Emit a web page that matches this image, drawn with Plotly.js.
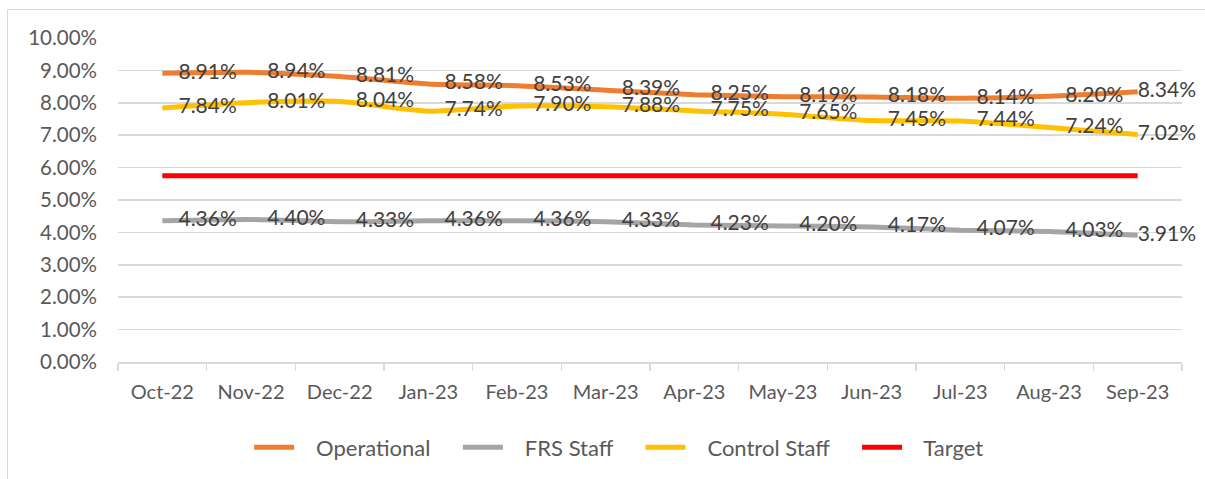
<!DOCTYPE html>
<html>
<head>
<meta charset="utf-8">
<script src="https://cdn.plot.ly/plotly-3.0.1.min.js"></script>
<style>
  html, body { margin: 0; padding: 0; background: #fff; }
  #frame { position: absolute; left: 7px; top: 9px; width: 1210px; height: 480px; border: 1.5px solid #d9d9d9; box-sizing: border-box; }
  #chart { position: absolute; left: 0; top: 0; width: 1205px; height: 479px; }
</style>
</head>
<body>
<div id="frame"></div>
<div id="chart"></div>
<script>
const months = ["Oct-22","Nov-22","Dec-22","Jan-23","Feb-23","Mar-23","Apr-23","May-23","Jun-23","Jul-23","Aug-23","Sep-23"];
const operational = [0.0891,0.0894,0.0881,0.0858,0.0853,0.0839,0.0825,0.0819,0.0818,0.0814,0.0820,0.0834];
const frsStaff = [0.0436,0.0440,0.0433,0.0436,0.0436,0.0433,0.0423,0.0420,0.0417,0.0407,0.0403,0.0391];
const controlStaff = [0.0784,0.0801,0.0804,0.0774,0.0790,0.0788,0.0775,0.0765,0.0745,0.0744,0.0724,0.0702];
const target = [0.0575,0.0575,0.0575,0.0575,0.0575,0.0575,0.0575,0.0575,0.0575,0.0575,0.0575,0.0575];

const font = "Lato, 'Open Sans', sans-serif";
const labelFont = {family: font, size: 21, color: "#404040"};
const NB = "\u00a0";

function series(name, y, color, labels, last) {
  const tt = y.map((v, i) => (i === y.length - 1 ? "" : "   ") + "%{y:.2%}");
  return {
    x: months, y: y, name: NB + NB + NB + name + (last ? "" : NB + NB + NB + NB), type: "scatter",
    mode: labels ? "lines+text" : "lines",
    line: {color: color, width: 5, shape: "spline", smoothing: 0.6},
    texttemplate: labels ? tt : undefined,
    textposition: "middle right",
    textfont: labelFont,
    hoverinfo: "skip",
    cliponaxis: false
  };
}

const data = [
  series("Operational", operational, "#ED7D31", true, false),
  series("FRS Staff", frsStaff, "#A5A5A5", true, false),
  series("Control Staff", controlStaff, "#FFC000", true, false),
  series("Target", target, "#FF0000", false, true)
];

const layout = {
  width: 1205, height: 479,
  margin: {l: 118, r: 23, t: 38, b: 116},
  paper_bgcolor: "rgba(0,0,0,0)",
  plot_bgcolor: "rgba(0,0,0,0)",
  font: {family: font, size: 20, color: "#595959"},
  showlegend: true,
  legend: {orientation: "h", x: 0.471, xanchor: "center", y: -0.195, yanchor: "top",
           font: {family: font, size: 22, color: "#595959"}, itemwidth: 40, traceorder: "normal"},
  xaxis: {
    type: "category", range: [-0.5, 11.5], autorange: false,
    showgrid: false, zeroline: false,
    showline: true, linecolor: "#d9d9d9", linewidth: 1.5,
    ticks: "outside", tickson: "boundaries", ticklen: 7, tickcolor: "#d9d9d9", tickwidth: 1.5,
    tickfont: {family: font, size: 20, color: "#595959"}, fixedrange: true,
    ticklabelstandoff: 11
  },
  yaxis: {
    range: [0, 0.1], autorange: false, dtick: 0.01, tickformat: ".2%",
    showgrid: true, gridcolor: "#d9d9d9", gridwidth: 1.5,
    zeroline: false, showline: false, ticks: "",
    tickfont: {family: font, size: 20.5, color: "#595959"}, fixedrange: true, ticklabelstandoff: 20
  }
};

Plotly.newPlot("chart", data, layout, {displayModeBar: false, staticPlot: true});
</script>
</body>
</html>
